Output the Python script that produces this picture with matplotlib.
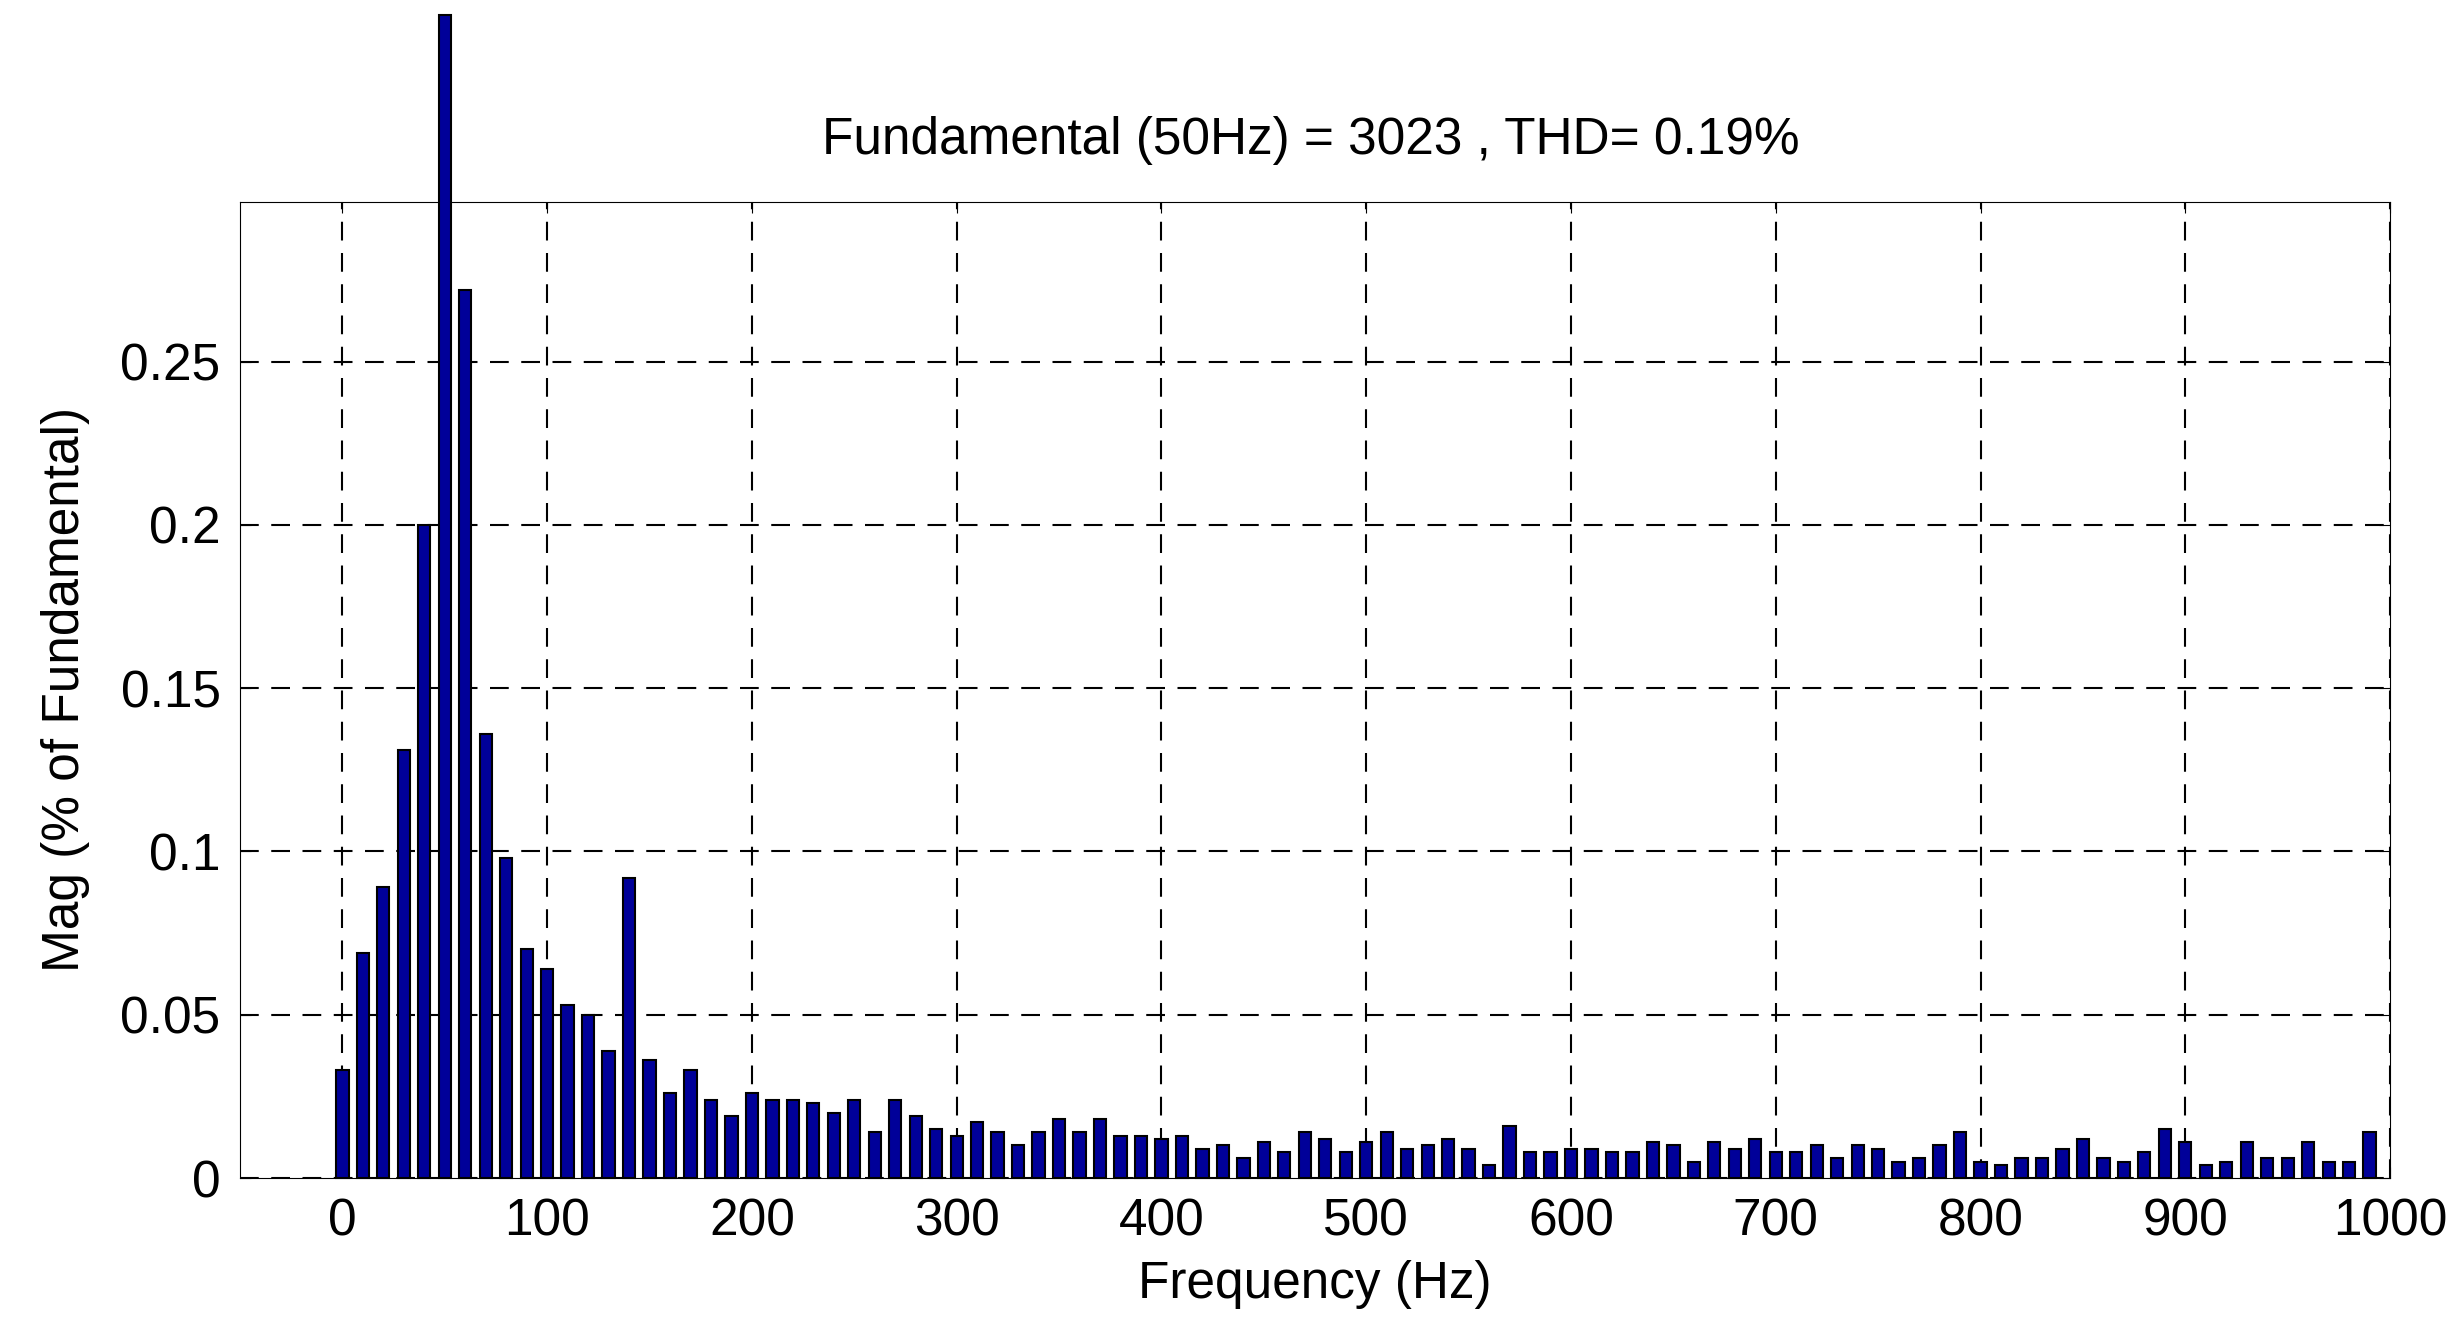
import matplotlib
matplotlib.use("Agg")
import matplotlib.pyplot as plt
import numpy as np

plt.rcParams['font.family'] = ['Liberation Sans', 'DejaVu Sans']

# harmonic spectrum, bins every 10 Hz
freqs = np.arange(0, 1000, 10)
mags = [0.033, 0.069, 0.089, 0.131, 0.200, 0.356, 0.272, 0.136, 0.098, 0.070,
        0.064, 0.053, 0.050, 0.039, 0.092, 0.036, 0.026, 0.033, 0.024, 0.019,
        0.026, 0.024, 0.024, 0.023, 0.020, 0.024, 0.014, 0.024, 0.019, 0.015,
        0.013, 0.017, 0.014, 0.010, 0.014, 0.018, 0.014, 0.018, 0.013, 0.013,
        0.012, 0.013, 0.009, 0.010, 0.006, 0.011, 0.008, 0.014, 0.012, 0.008,
        0.011, 0.014, 0.009, 0.010, 0.012, 0.009, 0.004, 0.016, 0.008, 0.008,
        0.009, 0.009, 0.008, 0.008, 0.011, 0.010, 0.005, 0.011, 0.009, 0.012,
        0.008, 0.008, 0.010, 0.006, 0.010, 0.009, 0.005, 0.006, 0.010, 0.014,
        0.005, 0.004, 0.006, 0.006, 0.009, 0.012, 0.006, 0.005, 0.008, 0.015,
        0.011, 0.004, 0.005, 0.011, 0.006, 0.006, 0.011, 0.005, 0.005, 0.014]
title = "Fundamental (50Hz) = 3023 , THD= 0.19%"

fig = plt.figure(figsize=(24.64, 13.35), dpi=100)
ax = fig.add_axes([0.0974, 0.1176, 0.8726, 0.7314])
bars = ax.bar(freqs, mags, width=6, color='#000099', edgecolor='black', linewidth=1.5, zorder=3)
for b in bars:
    b.set_clip_on(False)

ax.set_xlim(-50, 1000)
ax.set_ylim(0, 0.299)
ax.set_xticks(np.arange(0, 1001, 100))
ax.set_yticks([0, 0.05, 0.1, 0.15, 0.2, 0.25])
ax.set_yticklabels(['0', '0.05', '0.1', '0.15', '0.2', '0.25'])
ax.grid(True, color='black', linestyle=(0, (9, 6)), linewidth=1.5)
ax.tick_params(labelsize=37, direction='in', length=8, pad=14)
ax.tick_params(top=True, right=True)
ax.set_xlabel('Frequency (Hz)', fontsize=37, labelpad=10)
ax.set_ylabel('Mag (% of Fundamental)', fontsize=37, labelpad=22)
fig.text(0.532, 0.895, title, fontsize=37, ha='center', va='center')

fig.savefig('out.png', dpi=100)
